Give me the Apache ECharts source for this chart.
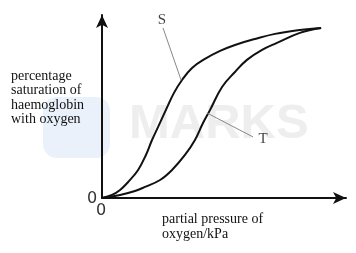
<!DOCTYPE html>
<html>
<head>
<meta charset="utf-8">
<script src="https://cdn.jsdelivr.net/npm/echarts@6/dist/echarts.min.js"></script>
<style>html,body{margin:0;padding:0;background:#fff}#c{width:356px;height:253px}</style>
</head>
<body>
<div id="c"></div>
<script>
// Curve S (left, higher affinity): [partial pressure, % saturation]
var curveS = [[0,0],[4.1,1.8],[7.4,4.7],[10.7,9.4],[14.8,16.5],[18.0,25.3],[20.5,34.1],[23.0,41.8],[26.2,51.8],[29.5,61.8],[32.8,69.4],[36.9,76.5],[42.2,81.8],[48.4,86.5],[54.5,90.0],[62.7,93.5],[70.9,96.5],[81.1,98.8],[89.8,100]];
// Curve T (right, lower affinity)
var curveT = [[0,0],[7.4,1.8],[13.5,4.1],[17.6,6.5],[23.8,10.6],[28.7,16.5],[34.0,25.3],[38.1,34.1],[41.4,44.1],[44.3,51.8],[49.2,65.3],[54.5,74.1],[59.4,81.2],[65.6,87.1],[71.7,91.2],[81.1,97.1],[89.8,100]];
// Leader lines for the labels
var leaderS = [[25.0,100],[32.4,69.4]];
var leaderT = [[43.0,50.0],[61.9,35.9]];
var labelS = [24.6,104.7];
var labelT = [66.0,34.7];
var yTitle = 'percentage\nsaturation of\nhaemoglobin\nwith oxygen';
var xTitle = 'partial pressure of\noxygen/kPa';

var chart = echarts.init(document.getElementById('c'), null, {renderer:'canvas'});
var serif = '"Liberation Serif", "Times New Roman", serif';
chart.setOption({
  backgroundColor:'#ffffff',
  animation:false,
  grid:{left:102, right:10, top:15, bottom:55},
  xAxis:{type:'value', min:0, max:100, axisLine:{show:true, lineStyle:{color:'#111', width:2}, symbol:['none','arrow'], symbolSize:[9,13]}, axisTick:{show:false}, axisLabel:{show:false}, splitLine:{show:false}},
  yAxis:{type:'value', min:0, max:107.6, axisLine:{show:true, lineStyle:{color:'#111', width:2}, symbol:['none','arrow'], symbolSize:[9,13]}, axisTick:{show:false}, axisLabel:{show:false}, splitLine:{show:false}},
  graphic:[
    {type:'rect', z:-10, shape:{x:43, y:97, width:67, height:61, r:14}, style:{fill:'#eaf1fb'}},
    {type:'text', z:-10, left:129, top:100, style:{text:'MARKS', font:'bold 49px "Liberation Sans", Arial, sans-serif', fill:'#eeeeee'}},
    {type:'text', left:11, top:69, style:{text:yTitle, font:'14px '+serif, lineHeight:14.5, fill:'#111'}},
    {type:'text', left:162, top:212, style:{text:xTitle, font:'14px '+serif, lineHeight:15, fill:'#111'}},
    {type:'text', left:87, top:191, style:{text:'0', font:'16px "DejaVu Sans", sans-serif', fill:'#333'}},
    {type:'text', left:96, top:203, style:{text:'0', font:'16px "DejaVu Sans", sans-serif', fill:'#333'}}
  ],
  series:[
    {type:'line', data:curveS, smooth:0.4, showSymbol:false, lineStyle:{color:'#111', width:2}},
    {type:'line', data:curveT, smooth:0.4, showSymbol:false, lineStyle:{color:'#111', width:2}},
    {type:'line', data:leaderS, showSymbol:false, lineStyle:{color:'#888', width:1}},
    {type:'line', data:leaderT, showSymbol:false, lineStyle:{color:'#888', width:1}},
    {type:'scatter', data:[labelS], symbolSize:0, label:{show:true, position:'inside', formatter:'S', fontFamily:serif, fontSize:15, color:'#111'}},
    {type:'scatter', data:[labelT], symbolSize:0, label:{show:true, position:'inside', formatter:'T', fontFamily:serif, fontSize:15, color:'#111'}}
  ]
});
</script>
</body>
</html>
